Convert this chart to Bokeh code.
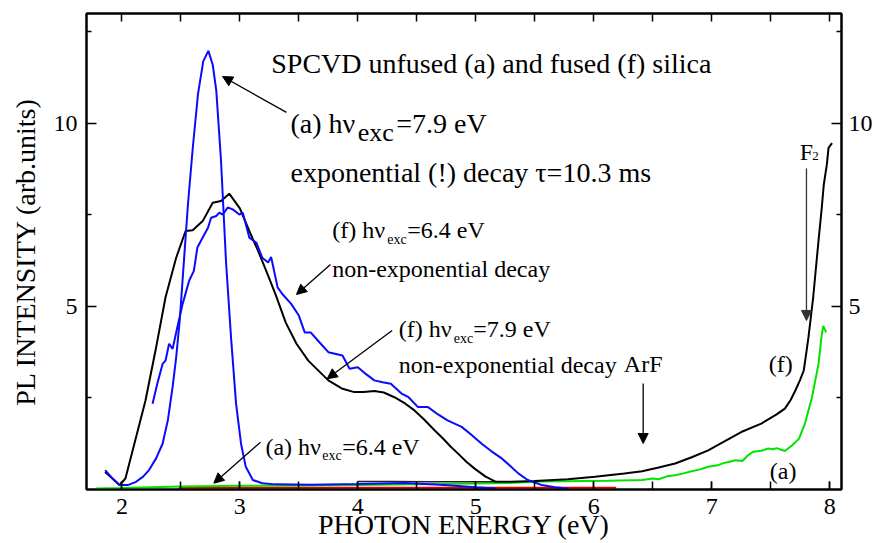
from bokeh.plotting import figure
from bokeh.models import LinearAxis, SingleIntervalTicker, FixedTicker, Arrow, NormalHead
from bokeh.core.properties import value
from bokeh.embed import file_html
from bokeh.resources import INLINE

# ---------------- data ----------------
# (f) fused silica, excitation 7.9 eV (black)
f79_x = [1.858, 1.92, 1.98, 2.03, 2.12, 2.20, 2.29, 2.37, 2.46, 2.54, 2.60, 2.685, 2.77, 2.84, 2.91,
         3.0, 3.08, 3.15, 3.22, 3.30, 3.39, 3.48, 3.58, 3.75, 3.87, 3.97, 4.05, 4.14, 4.22, 4.31,
         4.40, 4.48, 4.56, 4.65, 4.72, 4.79, 4.85, 4.92, 4.99, 5.08, 5.17, 5.30, 5.50, 5.78, 6.01,
         6.26, 6.41, 6.55, 6.69, 6.83, 6.97, 7.10, 7.25, 7.42, 7.55, 7.62, 7.67, 7.71, 7.75, 7.78,
         7.80, 7.82, 7.86, 7.905, 7.93, 7.95, 7.976, 7.99, 8.02]
f79_y = [0.48, 0.30, 0.12, 0.30, 1.43, 2.43, 3.88, 5.25, 6.33, 7.06, 7.08, 7.33, 7.83, 7.88, 8.08,
         7.68, 7.06, 6.55, 6.00, 5.35, 4.55, 3.98, 3.52, 2.98, 2.75, 2.66, 2.66, 2.69, 2.65, 2.52,
         2.35, 2.16, 1.92, 1.62, 1.40, 1.16, 0.98, 0.76, 0.57, 0.36, 0.21, 0.21, 0.23, 0.28, 0.35,
         0.44, 0.50, 0.60, 0.71, 0.88, 1.07, 1.30, 1.57, 1.80, 2.05, 2.21, 2.45, 2.71, 3.00, 3.25,
         3.70, 4.16, 5.25, 6.79, 7.60, 8.33, 8.88, 9.33, 9.46]

# (f) low-level segment (black, near baseline)
f79low_x = [4.00, 4.30, 4.60, 4.90, 5.17]
f79low_y = [0.22, 0.22, 0.21, 0.21, 0.21]

# (a) unfused silica, excitation 7.9 eV (blue, narrow band)
a79_x = [1.858, 1.92, 1.98, 2.05, 2.12, 2.18, 2.23, 2.29, 2.345, 2.39, 2.43, 2.46, 2.49, 2.53, 2.56,
         2.60, 2.645, 2.69, 2.733, 2.77, 2.80, 2.84, 2.883, 2.925, 2.968, 3.01, 3.05, 3.11, 3.19,
         3.30, 3.60, 4.00, 4.40, 4.70, 5.00, 5.17]
a79_y = [0.53, 0.30, 0.12, 0.12, 0.21, 0.35, 0.53, 0.85, 1.25, 1.90, 2.80, 3.60, 4.61, 6.43, 7.79,
         9.30, 10.80, 11.70, 11.98, 11.60, 10.90, 9.00, 6.20, 4.16, 2.34, 1.25, 0.62, 0.26, 0.17,
         0.14, 0.13, 0.15, 0.18, 0.13, 0.06, 0.03]

# (f) fused silica, excitation 6.4 eV (blue, broad band)
f64_x = [2.26, 2.30, 2.345, 2.37, 2.40, 2.43, 2.47, 2.515, 2.57, 2.61, 2.64, 2.685, 2.73, 2.756, 2.80,
         2.826, 2.855, 2.897, 2.94, 2.996, 3.025, 3.08, 3.14, 3.19, 3.24, 3.265, 3.32, 3.36, 3.435,
         3.50, 3.55, 3.60, 3.68, 3.75, 3.87, 3.93, 4.00, 4.07, 4.14, 4.21, 4.28, 4.37, 4.43, 4.51,
         4.595, 4.68, 4.76, 4.88, 4.96, 5.05, 5.13, 5.22, 5.29, 5.36, 5.44, 5.56, 5.67, 5.78]
f64_y = [2.34, 2.89, 3.43, 3.52, 3.98, 3.84, 4.43, 5.07, 5.70, 5.97, 6.61, 6.88, 7.15, 7.42, 7.47,
         7.56, 7.51, 7.70, 7.65, 7.51, 7.56, 6.88, 6.74, 6.33, 6.20, 6.35, 5.52, 5.34, 5.07,
         4.75, 4.29, 4.29, 4.00, 3.75, 3.66, 3.30, 3.34, 3.15, 2.98, 2.93, 2.89, 2.62, 2.52, 2.25,
         2.25, 2.05, 1.89, 1.71, 1.50, 1.25, 1.05, 0.85, 0.65, 0.44, 0.26, 0.12, 0.06, 0.03]

# (a) unfused silica, excitation 6.4 eV (red, near zero)
a64_x = [2.48, 3.50, 4.50, 5.50, 6.19]
a64_y = [0.05, 0.05, 0.05, 0.05, 0.05]

# (a) unfused silica, long-range spectrum (green)
a_x = [1.78, 2.00, 2.50, 3.00, 3.50, 4.00, 4.50, 4.71, 5.27, 5.56, 6.12, 6.41, 6.50, 6.55, 6.62,
       6.69, 6.76, 6.83, 6.90, 6.97, 7.05, 7.10, 7.14, 7.20, 7.26, 7.31, 7.35, 7.42, 7.48, 7.52,
       7.55, 7.62, 7.68, 7.74, 7.79, 7.85, 7.905, 7.93, 7.945, 7.97]
a_y = [0.03, 0.04, 0.08, 0.10, 0.11, 0.12, 0.14, 0.15, 0.18, 0.22, 0.24, 0.26, 0.30, 0.28, 0.36,
       0.39, 0.44, 0.50, 0.55, 0.62, 0.66, 0.72, 0.75, 0.80, 0.78, 0.94, 1.03, 1.06, 1.12, 1.10,
       1.13, 1.05, 1.20, 1.39, 1.80, 2.52, 3.43, 4.16, 4.47, 4.29]

x_major_interval = 1
x_top_ticks = [2, 2.5, 3, 3.5, 4, 4.5, 5, 5.5, 6, 6.5, 7, 7.5, 8]
y_major_ticks = [5, 10]
y_minor_ticks = [2.5, 7.5, 12.5]

FONT = "Liberation Serif"
BLUE = "#0a0aff"
GREEN = "#00e400"
RED = "#e00000"

p = figure(width=878, height=543, x_range=(1.7, 8.1), y_range=(0, 13),
           output_backend="svg", toolbar_location=None,
           min_border_left=86, min_border_right=37, min_border_top=13, min_border_bottom=54)
p.xgrid.visible = False
p.ygrid.visible = False
p.outline_line_color = "black"
p.outline_line_width = 2
p.background_fill_color = "white"
p.border_fill_color = "white"


def style_axis(ax, major_len, minor_len, label_size="24px", standoff=9):
    ax.axis_line_width = 2
    ax.axis_line_color = "black"
    ax.major_tick_in = major_len
    ax.major_tick_out = 0
    ax.minor_tick_in = minor_len
    ax.minor_tick_out = 0
    ax.major_tick_line_width = 1.5
    ax.minor_tick_line_width = 1.5
    ax.major_label_text_font = FONT
    ax.major_label_text_font_size = label_size
    ax.major_label_text_color = "black"
    ax.major_label_standoff = standoff
    ax.axis_label_text_font = FONT
    ax.axis_label_text_font_size = "28px"
    ax.axis_label_text_font_style = "normal"
    ax.axis_label_text_color = "black"


xb = p.xaxis[0]
xb.ticker = SingleIntervalTicker(interval=x_major_interval, num_minor_ticks=2)
style_axis(xb, 8, 8)
xb.axis_label = "PHOTON ENERGY (eV)"
xb.axis_label_standoff = -8

yl = p.yaxis[0]
yl.ticker = FixedTicker(ticks=y_major_ticks, minor_ticks=y_minor_ticks)
style_axis(yl, 10, 5)
yl.axis_label = "PL INTENSITY (arb.units)"
yl.axis_label_standoff = 10

# top axis: ticks only (all as minor ticks, so no labels are produced)
xt = LinearAxis(ticker=FixedTicker(ticks=[], minor_ticks=x_top_ticks))
style_axis(xt, 8, 8, standoff=0)
p.add_layout(xt, "above")

yr = LinearAxis(ticker=FixedTicker(ticks=y_major_ticks, minor_ticks=y_minor_ticks))
style_axis(yr, 10, 5, standoff=7)
p.add_layout(yr, "right")

# ---------------- curves ----------------
p.line(a64_x, a64_y, line_color=RED, line_width=2)
p.line(a_x, a_y, line_color=GREEN, line_width=2)
p.line(f79low_x, f79low_y, line_color="#222222", line_width=1.5)
p.line(f79_x, f79_y, line_color="black", line_width=2)
p.line(f64_x, f64_y, line_color=BLUE, line_width=2)
p.line(a79_x, a79_y, line_color=BLUE, line_width=2)

# ---------------- annotations ----------------
def txt(x, y, s, size):
    p.text(x=[x], y=[y], text=[s], text_font=value(FONT), text_font_size=size,
           text_color="black", text_align="left", text_baseline="alphabetic")

txt(3.266, 11.64, "SPCVD unfused (a) and fused (f) silica", "28px")
txt(3.429, 10.00, "(a) h\u03bd", "28px")
txt(4.000, 9.76, "exc", "26px")
txt(4.325, 10.00, "=7.9 eV", "28px")
txt(3.429, 8.666, "exponential (!) decay \u03c4=10.3 ms", "28px")

txt(3.783, 7.093, "(f) h\u03bd", "24px")
txt(4.249, 6.82, "exc", "14px")
txt(4.419, 7.093, "=6.4 eV", "24px")
txt(3.783, 6.028, "non-exponential decay", "24px")

txt(4.347, 4.389, "(f) h\u03bd", "24px")
txt(4.814, 4.116, "exc", "14px")
txt(4.978, 4.389, "=7.9 eV", "24px")
txt(4.347, 3.387, "non-exponential decay", "24px")
txt(6.255, 3.433, "ArF", "24px")

txt(3.217, 1.155, "(a) h\u03bd", "24px")
txt(3.698, 0.929, "exc", "14px")
txt(3.867, 1.155, "=6.4 eV", "24px")

txt(7.484, 3.433, "(f)", "24px")
txt(7.492, 0.50, "(a)", "24px")
txt(7.746, 9.204, "F", "24px")
txt(7.851, 9.10, "2", "13px")


def arrow(x0, y0, x1, y1, color="black"):
    p.add_layout(Arrow(end=NormalHead(size=10, fill_color=color, line_color=color, line_width=1),
                       x_start=x0, y_start=y0, x_end=x1, y_end=y1,
                       line_color=color, line_width=1.3))

arrow(3.395, 10.30, 2.853, 11.28)
arrow(3.768, 6.145, 3.480, 5.326)
arrow(4.291, 4.343, 3.740, 3.023)
arrow(3.175, 1.292, 2.779, 0.172)
arrow(6.419, 2.895, 6.419, 1.256)
arrow(7.803, 8.767, 7.803, 4.616, color="#333333")

open("out.html", "w").write(file_html(p, INLINE))
